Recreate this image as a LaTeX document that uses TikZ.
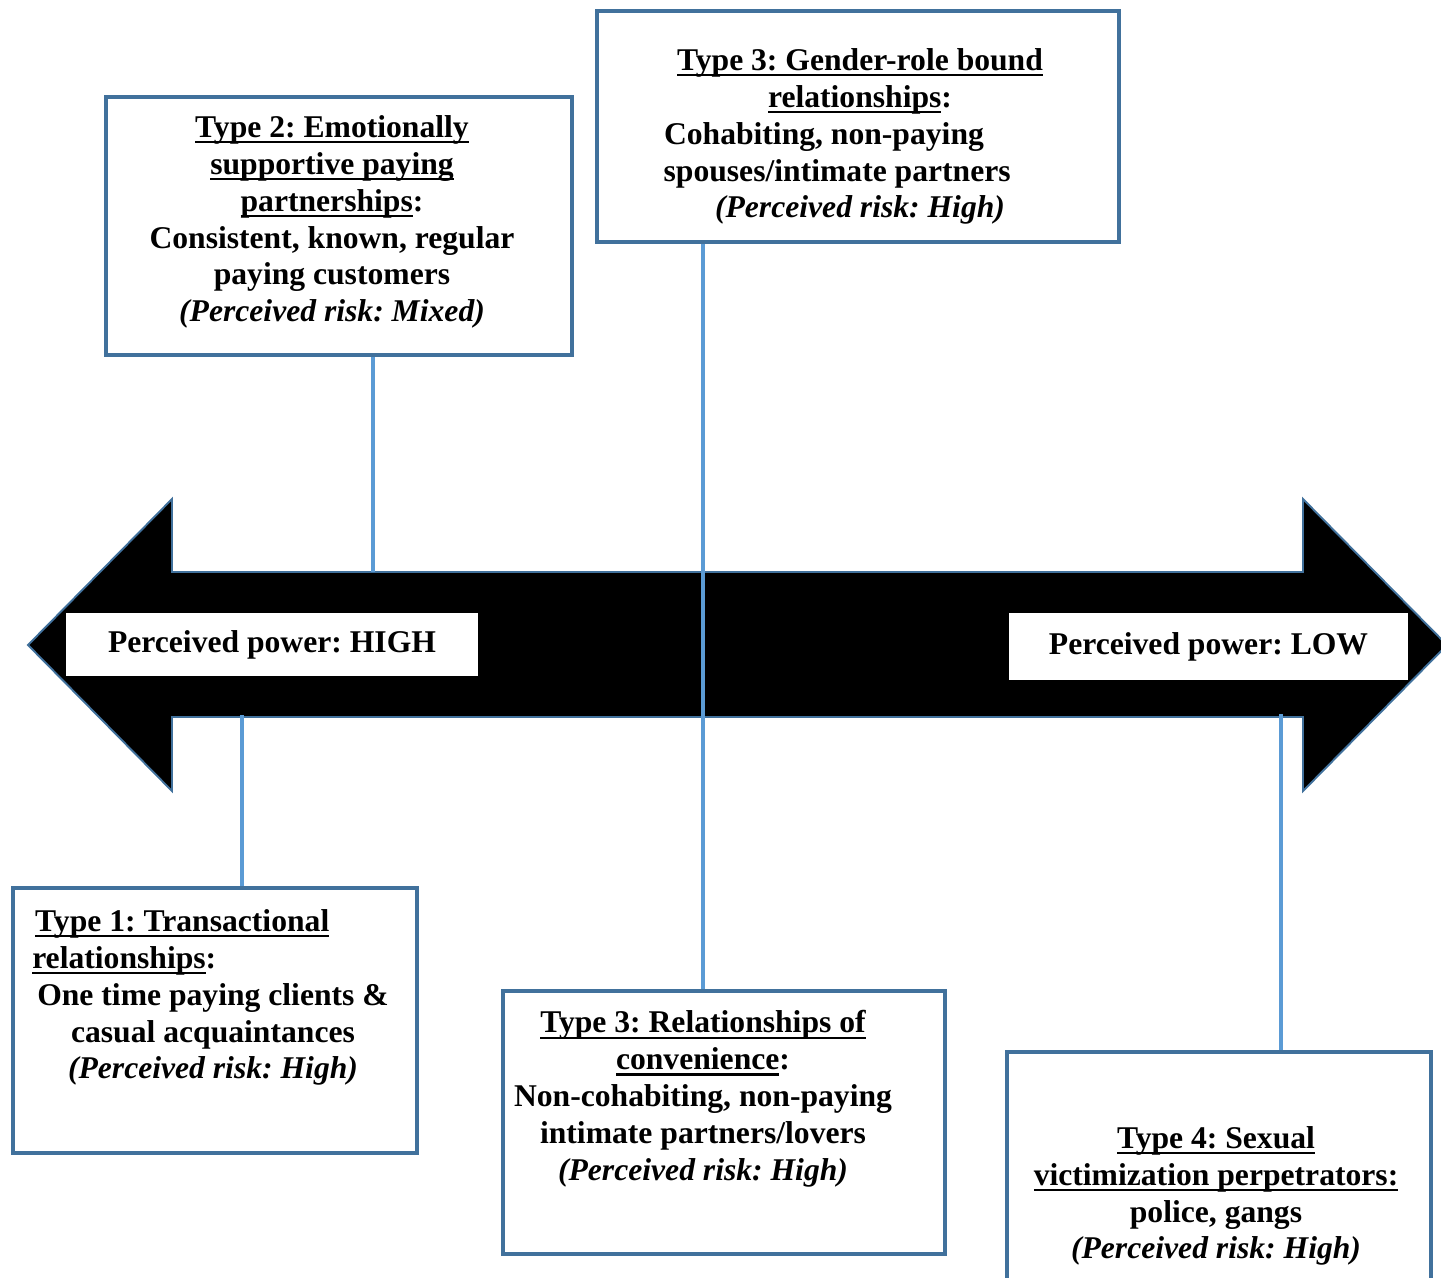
\documentclass[tikz,border=0pt]{standalone}
\usepackage{fontspec}
\setmainfont{Liberation Serif}
\usetikzlibrary{positioning}
\definecolor{boxblue}{HTML}{41719C}
\definecolor{lineblue}{HTML}{5B9BD5}
\newcommand{\typeul}[1]{\setbox0\hbox{#1}\rlap{\rule[-3.2pt]{\wd0}{1.2pt}}\box0}
\newcommand{\padr}[1]{\rule{#1}{0pt}}
\tikzset{
	typebox/.style={draw=boxblue, line width=2.7pt, rectangle, inner sep=0pt, fill=white},
	typetext/.style={align=center, inner sep=0pt, font=\fontsize{18}{21}\selectfont\bfseries},
	% white labels on the black arrow
	powerlabel/.style={rectangle, fill=white, inner sep=0pt, font=\fontsize{18}{21}\selectfont\bfseries},
	link/.style={lineblue, line width=2.5pt},
}

\begin{document}
\frenchspacing
\begin{tikzpicture}
	\useasboundingbox (0,0) rectangle (28.82,-25.54);
	
	% double arrow
	\draw [boxblue, line width=1.1pt, fill=black] (0.56,-12.9) -- (3.44,-9.98) -- (3.44,-11.44) -- (26.06,-11.44) -- (26.06,-9.98) -- (28.94,-12.9) -- (26.06,-15.82) -- (26.06,-14.34) -- (3.44,-14.34) -- (3.44,-15.82) -- cycle;
	\node (high) [powerlabel, minimum width=8.24cm, minimum height=1.26cm] at (5.44,-12.89) {Perceived power: HIGH};
	\node (low) [powerlabel, minimum width=7.98cm, minimum height=1.34cm] at (24.17,-12.93) {Perceived power: LOW};
	
	% boxes
	\node (type2) [typebox, minimum width=9.32cm, minimum height=5.16cm] at (6.78,-4.52) {};
	\node (type3a) [typebox, minimum width=10.44cm, minimum height=4.62cm] at (17.16,-2.53) {};
	\node (type1) [typebox, minimum width=8.08cm, minimum height=5.30cm] at (4.30,-20.41) {};
	\node (type3b) [typebox, minimum width=8.84cm, minimum height=5.26cm] at (14.48,-22.45) {};
	\node (type4) [typebox, minimum width=8.48cm, minimum height=5.72cm] at (24.38,-23.90) {};
	
	\node (type2txt) [typetext] at (6.64,-4.44) {\typeul{Type 2: Emotionally}\\ \typeul{supportive paying}\\ \typeul{partnerships}:\\ Consistent, known, regular\\ paying customers\\ \textit{(Perceived risk: Mixed)}};
	\node (type3atxt) [typetext] at (17.2,-2.73) {\typeul{Type 3: Gender-role bound}\\ \typeul{relationships}:\\ Cohabiting, non-paying\padr{41pt}\\ spouses/intimate partners\padr{26pt}\\ \textit{(Perceived risk: High)}};
	\node (type1txt) [typetext] at (4.26,-19.95) {\typeul{Type 1: Transactional}\padr{35pt}\\ \typeul{relationships}:\padr{101pt}\\ One time paying clients \&\\ casual acquaintances\\ \textit{(Perceived risk: High)}};
	\node (type3btxt) [typetext] at (14.06,-21.98) {\typeul{Type 3: Relationships of}\\ \typeul{convenience}:\\ Non-cohabiting, non-paying\\ intimate partners/lovers\\ \textit{(Perceived risk: High)}};
	\node (type4txt) [typetext] at (24.32,-23.92) {\typeul{Type 4: Sexual}\\ \typeul{victimization perpetrators:}\\ police, gangs\\ \textit{(Perceived risk: High)}};
	
	% connectors
	\coordinate (a2) at (7.46,-11.44);
	\coordinate (a1) at (4.84,-14.30);
	\coordinate (a3) at (14.06,-12.9);
	\coordinate (a4) at (25.62,-14.28);
	\begin{scope}[link]
		\draw (type2.south -| a2) -- (a2);
		\draw (type1.north -| a1) -- (a1);
		\draw (type3a.south -| a3) -- (type3b.north -| a3);
		\draw (type4.north -| a4) -- (a4);
	\end{scope}
	
\end{tikzpicture}
\end{document}
